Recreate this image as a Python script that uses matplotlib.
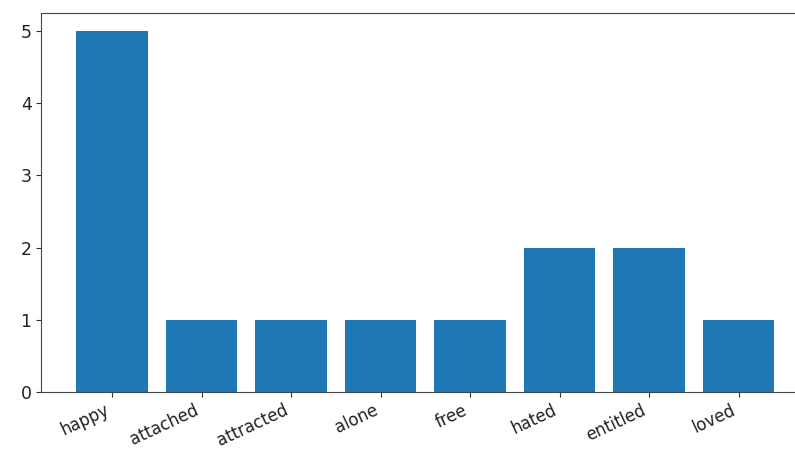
import matplotlib
matplotlib.use('Agg')
import matplotlib.pyplot as plt

words = ['happy', 'attached', 'attracted', 'alone', 'free', 'hated', 'entitled', 'loved']
counts = [5, 1, 1, 1, 1, 2, 2, 1]

fig, ax = plt.subplots(figsize=(7.95, 4.5), dpi=100)
# the axes runs a little past the right edge of the figure
fig.subplots_adjust(left=0.052, right=1.018, top=0.971, bottom=0.129)

ax.bar(words, counts, color='#1f77b4')
ax.tick_params(labelsize=12.5, colors='#333333', labelcolor='#222222')
ax.tick_params(axis='x', labelsize=12, pad=3)
for s in ax.spines.values():
    s.set_color('#444444')
plt.setp(ax.get_xticklabels(), rotation=25, ha='right')

plt.savefig('out.png', dpi=100)
plt.close()
